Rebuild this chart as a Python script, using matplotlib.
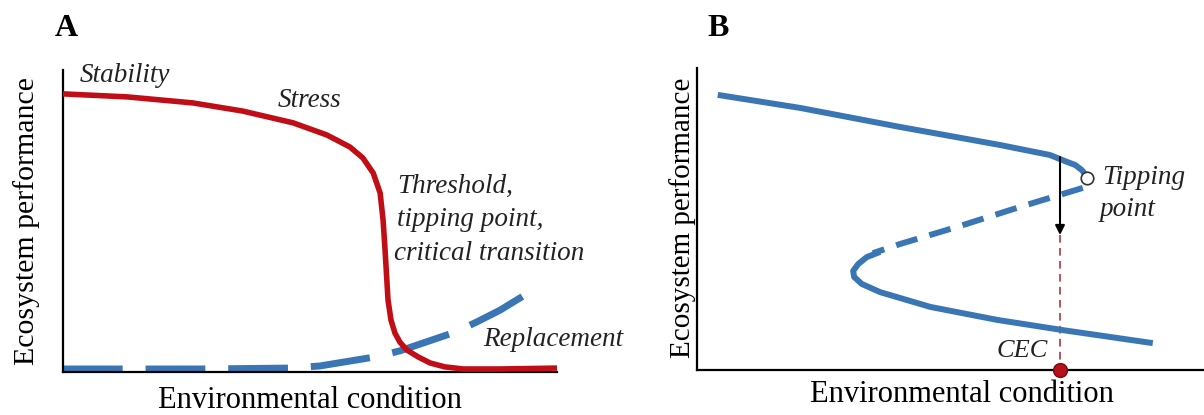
import matplotlib
matplotlib.use('Agg')
import matplotlib.pyplot as plt

plt.rcParams['font.family'] = ['Liberation Serif', 'DejaVu Serif']

# panel A: gradual loss then abrupt collapse (arbitrary units 0-10)
a_red_x = [0, 1.30, 2.63, 3.64, 4.66, 5.34, 5.81, 6.07, 6.28, 6.42, 6.48, 6.52,
           6.58, 6.64, 6.72, 6.82, 6.96, 7.19, 7.43, 7.73, 8.10, 8.85, 10]
a_red_y = [9.21, 9.11, 8.91, 8.64, 8.25, 7.85, 7.45, 7.09, 6.59, 5.93, 5.03, 4.04,
           2.38, 1.72, 1.29, 0.99, 0.73, 0.50, 0.30, 0.17, 0.10, 0.10, 0.13]
a_blue_x = [0, 2.77, 4.60, 5.20, 6.32, 6.82, 7.94, 8.38, 8.85, 9.45]
a_blue_y = [0.10, 0.10, 0.13, 0.20, 0.50, 0.70, 1.32, 1.66, 2.05, 2.65]

# panel B: fold (S-shaped) curve
b_upper_x = [0.41, 2.03, 4.00, 5.98, 6.96, 7.30, 7.46, 7.59, 7.67, 7.69]
b_upper_y = [9.11, 8.68, 8.05, 7.45, 7.12, 6.89, 6.79, 6.62, 6.46, 6.38]
b_mid_x = [7.61, 6.37, 5.19, 4.00, 3.47]
b_mid_y = [6.03, 5.40, 4.77, 4.17, 3.87]
b_lower_x = [3.61, 3.35, 3.18, 3.08, 3.10, 3.25, 3.61, 4.60, 5.92, 7.22, 8.99]
b_lower_y = [3.91, 3.74, 3.51, 3.28, 3.08, 2.85, 2.58, 2.09, 1.66, 1.32, 0.89]
tip_x, tip_y = 7.69, 6.36
cec_x = 7.16
jump_top, jump_bottom = 7.05, 4.47

red = '#c00d16'
blue = '#3a75b4'

fig = plt.figure(figsize=(12.04, 4.15), dpi=100)

axA = fig.add_axes([0.0523, 0.1036, 0.4103, 0.7277])
axB = fig.add_axes([0.5789, 0.1084, 0.4211, 0.7277])

for ax in (axA, axB):
    ax.set_xlim(0, 10)
    ax.set_ylim(0, 10)
    ax.set_xticks([])
    ax.set_yticks([])
    for s in ('top', 'right'):
        ax.spines[s].set_visible(False)
    for s in ('left', 'bottom'):
        ax.spines[s].set_linewidth(1.6)
        ax.spines[s].set_color('black')
    ax.patch.set_alpha(0)

# ---- panel A
axA.plot(a_blue_x, a_blue_y, color=blue, lw=5, dashes=(8.6, 3.3),
         dash_capstyle='butt', dash_joinstyle='round', clip_on=False, zorder=2)
axA.plot(a_red_x, a_red_y, color=red, lw=4, solid_capstyle='butt',
         solid_joinstyle='round', clip_on=False, zorder=3)

ita = dict(fontsize=19.5, style='italic', color='#222222', va='center')
axA.text(0.34, 9.83, 'Stability', **ita)
axA.text(4.35, 9.0, 'Stress', **ita)
axA.text(6.76, 6.16, 'Threshold,', **ita)
axA.text(6.76, 5.05, 'tipping point,', **ita)
axA.text(6.70, 3.94, 'critical transition', **ita)
axA.text(8.50, 1.06, 'Replacement', **ita)

fig.text(27 / 1204, 1 - 221 / 415, 'Ecosystem performance', rotation=90,
         fontsize=21.5, ha='center', va='center')
fig.text(310 / 1204, 1 - 400 / 415, 'Environmental condition',
         fontsize=22, ha='center', va='center')
fig.text(55 / 1204, 1 - 28 / 415, 'A', fontsize=23, fontweight='bold',
         ha='left', va='center')

# ---- panel B
line_kw = dict(color=blue, lw=4.3, solid_capstyle='butt', solid_joinstyle='round', zorder=3)
axB.plot(b_upper_x, b_upper_y, **line_kw)
axB.plot(b_mid_x, b_mid_y, color=blue, lw=4.3, dashes=(3.7, 2.1),
         dash_capstyle='butt', zorder=3)
axB.plot(b_lower_x, b_lower_y, **line_kw)
axB.plot([tip_x], [tip_y], marker='o', ms=9, mfc='white', mec='#333333',
         mew=1.2, zorder=5)

axB.annotate('', xy=(cec_x, jump_bottom), xytext=(cec_x, jump_top),
             arrowprops=dict(arrowstyle='-|>', color='black', lw=1.5,
                             mutation_scale=14, shrinkA=0, shrinkB=0),
             zorder=4)
axB.plot([cec_x, cec_x], [jump_bottom, 0], color='#a8242a', lw=1.1,
         dashes=(5, 3.5), zorder=2)
axB.plot([cec_x], [0], marker='o', ms=10, mfc='#b3121a', mec='#7a0a0f',
         mew=1, clip_on=False, zorder=6)

axB.text(7.99, 6.36, 'Tipping', **ita)
axB.text(7.95, 5.30, 'point', **ita)
axB.text(6.92, 0.62, 'CEC', fontsize=19, style='italic', color='#222222',
         ha='right', va='center')

fig.text(683 / 1204, 1 - 218 / 415, 'Ecosystem performance', rotation=90,
         fontsize=21, ha='center', va='center')
fig.text(962 / 1204, 1 - 394 / 415, 'Environmental condition',
         fontsize=22, ha='center', va='center')
fig.text(707 / 1204, 1 - 28 / 415, 'B', fontsize=23, fontweight='bold',
         ha='left', va='center')

fig.savefig('out.png', dpi=100)
